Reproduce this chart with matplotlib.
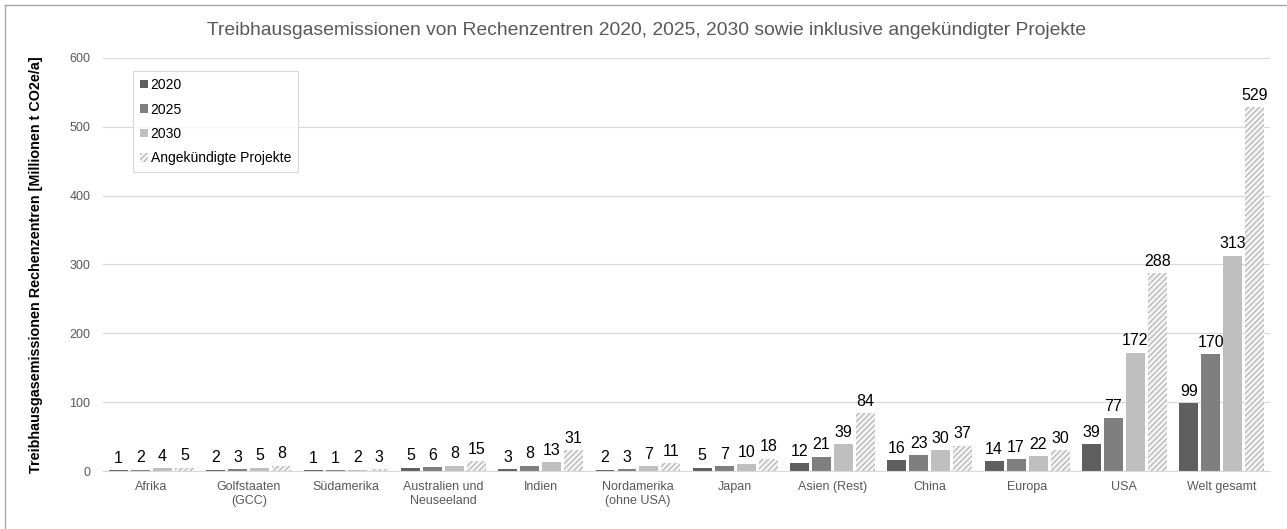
import matplotlib
matplotlib.use("Agg")
import matplotlib.pyplot as plt
import numpy as np
from matplotlib.lines import Line2D

plt.rcParams['font.family'] = ['Liberation Sans', 'DejaVu Sans']
plt.rcParams['hatch.linewidth'] = 0.7
plt.rcParams['hatch.color'] = '#a8a8a8'

categories = ["Afrika", "Golfstaaten\n(GCC)", "Südamerika", "Australien und\nNeuseeland",
              "Indien", "Nordamerika\n(ohne USA)", "Japan", "Asien (Rest)", "China",
              "Europa", "USA", "Welt gesamt"]
v2020 = [1, 2, 1, 5, 3, 2, 5, 12, 16, 14, 39, 99]
v2025 = [2, 3, 1, 6, 8, 3, 7, 21, 23, 17, 77, 170]
v2030 = [4, 5, 2, 8, 13, 7, 10, 39, 30, 22, 172, 313]
vproj = [5, 8, 3, 15, 31, 11, 18, 84, 37, 30, 288, 529]
series_names = ["2020", "2025", "2030", "Angekündigte Projekte"]
yticks = [0, 100, 200, 300, 400, 500, 600]

fig = plt.figure(figsize=(12.87, 5.29), dpi=100)
ax = fig.add_axes([0.080, 0.1096, 0.907, 0.7808])

x = np.arange(len(categories))
pitch = 0.226
width = 0.195
offsets = (np.arange(4) - 1.5) * pitch
colors = ["#5f5f5f", "#7f7f7f", "#bfbfbf", "#f2f2f2"]
data = [v2020, v2025, v2030, vproj]

for i, (vals, col) in enumerate(zip(data, colors)):
    if i < 3:
        bars = ax.bar(x + offsets[i], vals, width, color=col, zorder=3, label=series_names[i])
    else:
        bars = ax.bar(x + offsets[i], vals, width, facecolor=col, edgecolor="#a8a8a8",
                      hatch="//////", linewidth=0, zorder=3, label=series_names[i])
    ax.bar_label(bars, labels=[str(v) for v in vals], padding=3, fontsize=11.5, color="black")

ax.set_xlim(-0.5, len(categories) - 0.5)
ax.set_ylim(0, 600)
ax.set_yticks(yticks)
ax.set_xticks(x)
ax.set_xticklabels(categories, fontsize=9, color="#595959")
ax.tick_params(axis='y', labelsize=9, colors="#595959", length=0, pad=9)
ax.tick_params(axis='x', length=0, pad=7)
ax.grid(axis='y', color="#d9d9d9", linewidth=0.9, zorder=0)
for s in ["top", "right", "left"]:
    ax.spines[s].set_visible(False)
ax.spines["bottom"].set_color("#d9d9d9")
ax.spines["bottom"].set_zorder(4)

ax.set_ylabel("Treibhausgasemissionen Rechenzentren [Millionen t CO2e/a]", fontsize=10.4,
              fontweight="bold", color="black")
ax.yaxis.set_label_coords(-0.0514, 0.5)

fig.text(0.502, 0.943, "Treibhausgasemissionen von Rechenzentren 2020, 2025, 2030 sowie inklusive angekündigter Projekte",
         ha="center", va="center", fontsize=13.85, color="#595959")

leg = ax.legend(loc="upper left", bbox_to_anchor=(0.026, 0.968), fontsize=10, frameon=True,
                fancybox=False, edgecolor="#d0d0d0", handlelength=0.55, handleheight=0.55,
                handletextpad=0.2, labelspacing=0.75, borderpad=0.5, borderaxespad=0)
leg.get_frame().set_linewidth(0.8)
leg.set_zorder(5)

# figure border (left and top visible)
fig.add_artist(Line2D([5/1287, 5/1287], [0, 1 - 5/529], transform=fig.transFigure,
                      color="#a6a6a6", linewidth=1))
fig.add_artist(Line2D([5/1287, 1], [1 - 5/529, 1 - 5/529], transform=fig.transFigure,
                      color="#a6a6a6", linewidth=1))

fig.savefig("out.png", dpi=100, facecolor="white")
